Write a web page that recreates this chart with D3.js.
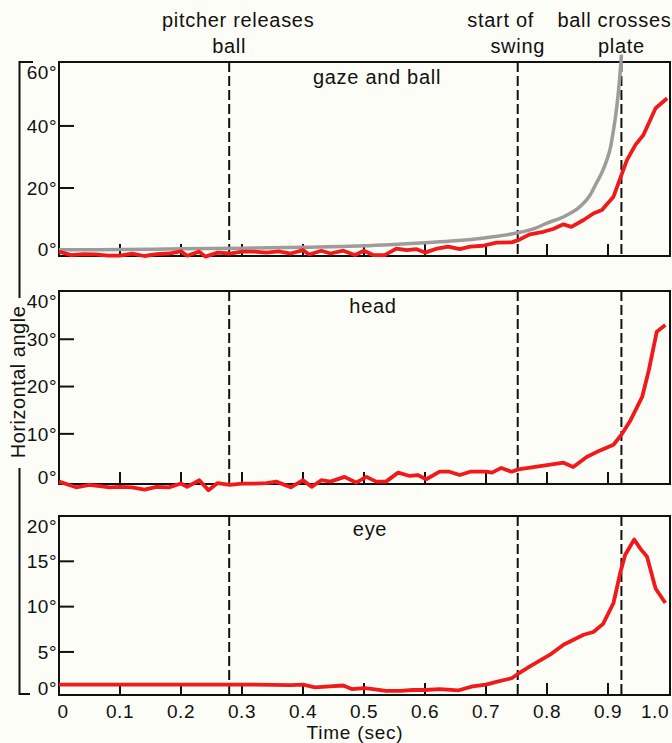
<!DOCTYPE html>
<html>
<head>
<meta charset="utf-8">
<script src="https://cdn.jsdelivr.net/npm/d3@7"></script>
<style>
  body { margin: 0; background: #fdfdf7; }
  svg { display: block; font-family: "Liberation Sans", Arial, sans-serif; }
</style>
</head>
<body>
<div id="chart"></div>
<script>
// time (sec) and horizontal angle (deg)
var ballT   = [0, 0.1, 0.2, 0.3, 0.4, 0.5, 0.6, 0.65, 0.7, 0.75, 0.78, 0.8, 0.83, 0.854, 0.87, 0.881, 0.89, 0.898, 0.904, 0.909, 0.913, 0.916, 0.919, 0.921, 0.922];
var ballDeg = [0.1, 0.2, 0.4, 0.6, 0.9, 1.4, 2.4, 3.0, 4.0, 5.5, 7.0, 8.7, 11.0, 14.0, 17.5, 21.6, 25.0, 29.0, 33.0, 38.7, 44.0, 49.0, 55.0, 60.0, 63.0];

var gazeT   = [0, 0.02, 0.04, 0.06, 0.08, 0.10, 0.12, 0.14, 0.16, 0.18, 0.20, 0.21, 0.23, 0.24, 0.26, 0.28, 0.30, 0.32, 0.34, 0.36, 0.38, 0.40, 0.41, 0.43, 0.445, 0.466, 0.485, 0.50, 0.515, 0.534, 0.553, 0.57, 0.586, 0.60, 0.62, 0.638, 0.657, 0.674, 0.695, 0.717, 0.742, 0.753, 0.772, 0.794, 0.81, 0.827, 0.84, 0.86, 0.876, 0.89, 0.909, 0.923, 0.931, 0.945, 0.958, 0.978, 0.997];
var gazeDeg = [-0.5, -1.6, -1.3, -1.4, -1.8, -1.8, -1.1, -1.9, -1.3, -1.1, -0.4, -1.8, -0.5, -2.1, -0.8, -1.1, -0.5, -0.5, -0.8, -0.4, -1.1, 0.0, -1.4, -0.2, -1.1, -0.2, -1.6, -0.2, -1.6, -1.6, 0.5, 0.0, 0.3, -0.8, 0.5, 1.1, 0.3, 1.1, 1.4, 2.4, 2.5, 3.2, 5.1, 5.9, 6.8, 8.3, 7.5, 9.7, 11.8, 12.9, 17.2, 24.7, 29.0, 33.9, 37.1, 45.7, 48.9];

var headT   = [0, 0.028, 0.05, 0.083, 0.1, 0.12, 0.14, 0.16, 0.18, 0.2, 0.21, 0.23, 0.245, 0.26, 0.28, 0.3, 0.32, 0.34, 0.356, 0.38, 0.4, 0.414, 0.43, 0.445, 0.468, 0.487, 0.504, 0.52, 0.536, 0.556, 0.575, 0.588, 0.602, 0.624, 0.64, 0.657, 0.674, 0.7, 0.71, 0.725, 0.742, 0.753, 0.8, 0.827, 0.843, 0.865, 0.887, 0.909, 0.923, 0.937, 0.956, 0.967, 0.98, 0.994];
var headDeg = [-0.1, -1.3, -0.8, -1.3, -1.2, -1.3, -1.8, -1.2, -1.3, -0.5, -1.2, 0.2, -1.9, -0.4, -0.8, -0.5, -0.5, -0.4, -0.1, -1.3, 0.2, -1.2, 0.2, -0.1, 0.9, -0.3, 0.9, -0.1, -0.1, 1.8, 1.1, 1.3, 0.4, 2.0, 2.0, 1.3, 2.0, 2.0, 1.8, 2.8, 2.0, 2.5, 3.4, 3.9, 3.0, 5.1, 6.5, 7.7, 10.0, 12.9, 17.8, 23.5, 31.6, 33.0];

var eyeT   = [0, 0.1, 0.2, 0.3, 0.38, 0.4, 0.42, 0.444, 0.466, 0.48, 0.5, 0.515, 0.536, 0.56, 0.58, 0.6, 0.624, 0.654, 0.678, 0.7, 0.717, 0.742, 0.753, 0.772, 0.805, 0.827, 0.86, 0.876, 0.892, 0.909, 0.92, 0.928, 0.943, 0.953, 0.964, 0.978, 0.994];
var eyeDeg = [1.4, 1.4, 1.4, 1.4, 1.35, 1.4, 1.1, 1.2, 1.3, 0.9, 1.0, 0.9, 0.7, 0.7, 0.8, 0.8, 0.9, 0.75, 1.2, 1.4, 1.7, 2.1, 2.6, 3.4, 4.7, 5.8, 6.9, 7.2, 8.1, 10.4, 13.7, 15.7, 17.4, 16.4, 15.5, 12.0, 10.4];

var xTicks = [0, 0.1, 0.2, 0.3, 0.4, 0.5, 0.6, 0.7, 0.8, 0.9, 1.0];
var xTickLabels = ["0", "0.1", "0.2", "0.3", "0.4", "0.5", "0.6", "0.7", "0.8", "0.9", "1.0"];

var eventT = [0.279, 0.752, 0.922];
var eventLabels = [["pitcher releases", "ball"], ["start of", "swing"], ["ball crosses", "plate"]];

var panelTitles = ["gaze and ball", "head", "eye"];
var panelTicks = [[0, 20, 40, 60], [0, 10, 20, 30, 40], [0, 5, 10, 15, 20]];

// layout
var W = 672, H = 743;
var left = 59, right = 669;
var panels = [
  {top: 62, bottom: 256, domain: [-1.9, 60.6], titleX: 377, titleY: 84},
  {top: 291, bottom: 484, domain: [-0.6, 40.2], titleX: 373, titleY: 313},
  {top: 516, bottom: 695, domain: [0.25, 20], titleX: 370, titleY: 536}
];
var series = [
  [{t: ballT, v: ballDeg, color: "#9c9c9c", w: 3.5, curve: d3.curveMonotoneX},
   {t: gazeT, v: gazeDeg, color: "#f01a1a", w: 3.8, curve: d3.curveLinear}],
  [{t: headT, v: headDeg, color: "#f01a1a", w: 3.8, curve: d3.curveLinear}],
  [{t: eyeT, v: eyeDeg, color: "#f01a1a", w: 3.8, curve: d3.curveLinear}]
];
var labelOffsets = [9, -17, -7];

var svg = d3.select("#chart").append("svg").attr("width", W).attr("height", H);
svg.append("rect").attr("width", W).attr("height", H).attr("fill", "#fdfdf7");

var x = d3.scaleLinear().domain([0, 1]).range([left, right]);

panels.forEach(function(p, i) {
  var y = d3.scaleLinear().domain(p.domain).range([p.bottom, p.top]);
  var g = svg.append("g");

  // frame
  g.append("rect")
    .attr("x", left).attr("y", p.top)
    .attr("width", 670 - left).attr("height", p.bottom - p.top)
    .attr("fill", "none").attr("stroke", "#111").attr("stroke-width", 2);

  // inward x ticks
  g.selectAll(".xt").data(xTicks.slice(1, -1)).enter().append("line")
    .attr("x1", function(d) { return x(d); }).attr("x2", function(d) { return x(d); })
    .attr("y1", p.bottom).attr("y2", p.bottom - 12)
    .attr("stroke", "#111").attr("stroke-width", 2);

  // inward y ticks
  var ticks = panelTicks[i];
  g.selectAll(".yt").data(ticks.slice(1, -1)).enter().append("line")
    .attr("x1", left).attr("x2", left + 15)
    .attr("y1", function(d) { return y(d); }).attr("y2", function(d) { return y(d); })
    .attr("stroke", "#111").attr("stroke-width", 2);

  g.selectAll(".yl").data(ticks).enter().append("text")
    .attr("x", 57)
    .attr("y", function(d) { return Math.max(p.top + 10, Math.min(p.bottom - 7, y(d))); })
    .attr("dy", "0.36em")
    .attr("text-anchor", "end")
    .attr("font-size", 19)
    .attr("letter-spacing", 0.5)
    .attr("fill", "#111")
    .text(function(d) { return d + "\u00b0"; });

  // event lines
  g.selectAll(".ev").data(eventT).enter().append("line")
    .attr("x1", function(d) { return x(d); }).attr("x2", function(d) { return x(d); })
    .attr("y1", p.top).attr("y2", p.bottom)
    .attr("stroke", "#111").attr("stroke-width", 2)
    .attr("stroke-dasharray", "10,4");

  g.append("text")
    .attr("x", p.titleX).attr("y", p.titleY)
    .attr("text-anchor", "middle")
    .attr("font-size", 20).attr("letter-spacing", 0.7)
    .attr("fill", "#111")
    .text(panelTitles[i]);

  series[i].forEach(function(s) {
    var pts = s.t.map(function(t, k) { return [t, s.v[k]]; });
    g.append("path")
      .datum(pts)
      .attr("fill", "none")
      .attr("stroke", s.color)
      .attr("stroke-width", s.w)
      .attr("stroke-linejoin", "round")
      .attr("d", d3.line()
        .curve(s.curve)
        .x(function(d) { return x(d[0]); })
        .y(function(d) { return y(d[1]); }));
  });
});

// x tick labels under the last panel
svg.selectAll(".xl").data(xTicks).enter().append("text")
  .attr("x", function(d) { return Math.max(63, Math.min(655, x(d))); })
  .attr("y", 718)
  .attr("text-anchor", "middle")
  .attr("font-size", 19).attr("letter-spacing", 0.6)
  .attr("fill", "#111")
  .text(function(d, i) { return xTickLabels[i]; });

svg.append("text")
  .attr("x", 355).attr("y", 739)
  .attr("text-anchor", "middle")
  .attr("font-size", 19).attr("letter-spacing", 0.8)
  .attr("fill", "#111")
  .text("Time (sec)");

// bracket on the left with the axis title
svg.append("path")
  .attr("d", "M33,62 H19.5 V298 M19.5,468 V694 H30")
  .attr("fill", "none").attr("stroke", "#111").attr("stroke-width", 2);

svg.append("text")
  .attr("transform", "translate(25,382) rotate(-90)")
  .attr("text-anchor", "middle")
  .attr("font-size", 20).attr("letter-spacing", 0.5)
  .attr("fill", "#111")
  .text("Horizontal angle");

// event annotations above
eventT.forEach(function(t, i) {
  var lbl = svg.append("text")
    .attr("text-anchor", "middle")
    .attr("font-size", 20).attr("letter-spacing", 0.7)
    .attr("fill", "#111");
  lbl.append("tspan").attr("x", x(t) + labelOffsets[i]).attr("y", 27).text(eventLabels[i][0]);
  lbl.append("tspan").attr("x", x(t)).attr("y", 53).text(eventLabels[i][1]);
});
</script>
</body>
</html>
